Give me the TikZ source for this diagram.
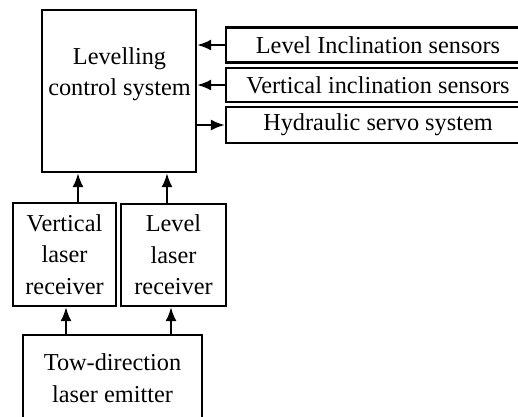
\documentclass[tikz,border=0pt]{standalone}
\usepackage{fontspec}
\setmainfont{Liberation Serif}
\usepackage{tikz}
\usetikzlibrary{positioning, arrows.meta}

\begin{document}
\begin{tikzpicture}[x=1pt,y=-1pt,
    block/.style={draw=black,line width=2.2pt,inner sep=0pt,align=center},
    arr/.style={line width=2.2pt,-{Latex[length=14pt,width=11pt]}},
    font=\fontsize{24.3}{31.5}\selectfont]
    \clip (0,0) rectangle (518,416);
    % control unit
    \node[block,minimum width=154pt,minimum height=162pt](ctrl) at (119,91){};
    \node[align=center](ctrllbl) at (119.5,74){Levelling\\control system};
    % side boxes
    \node[block,minimum width=304pt,minimum height=35pt](levsens) at (378,45){Level Inclination sensors};
    \node[block,minimum width=304pt,minimum height=34pt](versens) at (378,85){Vertical inclination sensors};
    \node[block,minimum width=304pt,minimum height=36pt](servo) at (378,125){Hydraulic servo system};
    % receivers
    \node[block,minimum width=103pt,minimum height=103pt](vrecv) at (64.5,254.5){Vertical\\laser\\receiver};
    \node[block,minimum width=105pt,minimum height=102pt](lrecv) at (173.5,255){Level\\laser\\receiver};
    % emitter
    \node[block,minimum width=179pt,minimum height=86pt](emit) at (112.5,378){Tow-direction\\laser emitter};
    \coordinate (vin) at ([xshift=1.5pt]vrecv.south);
    \coordinate (lin) at ([xshift=-2.5pt]lrecv.south);
    \coordinate (vout) at ([xshift=13.5pt]vrecv.north);
    \coordinate (lout) at ([xshift=-6.5pt]lrecv.north);
    \draw[arr] (levsens.west) -- (ctrl.east |- levsens.west);
    \draw[arr] (versens.west) -- (ctrl.east |- versens.west);
    \draw[arr] (ctrl.east |- servo.west) -- (servo.west);
    \draw[arr] (vout) -- (vout |- ctrl.south);
    \draw[arr] (lout) -- (lout |- ctrl.south);
    \draw[arr] (vin |- emit.north) -- (vin);
    \draw[arr] (lin |- emit.north) -- (lin);
\end{tikzpicture}
\end{document}
